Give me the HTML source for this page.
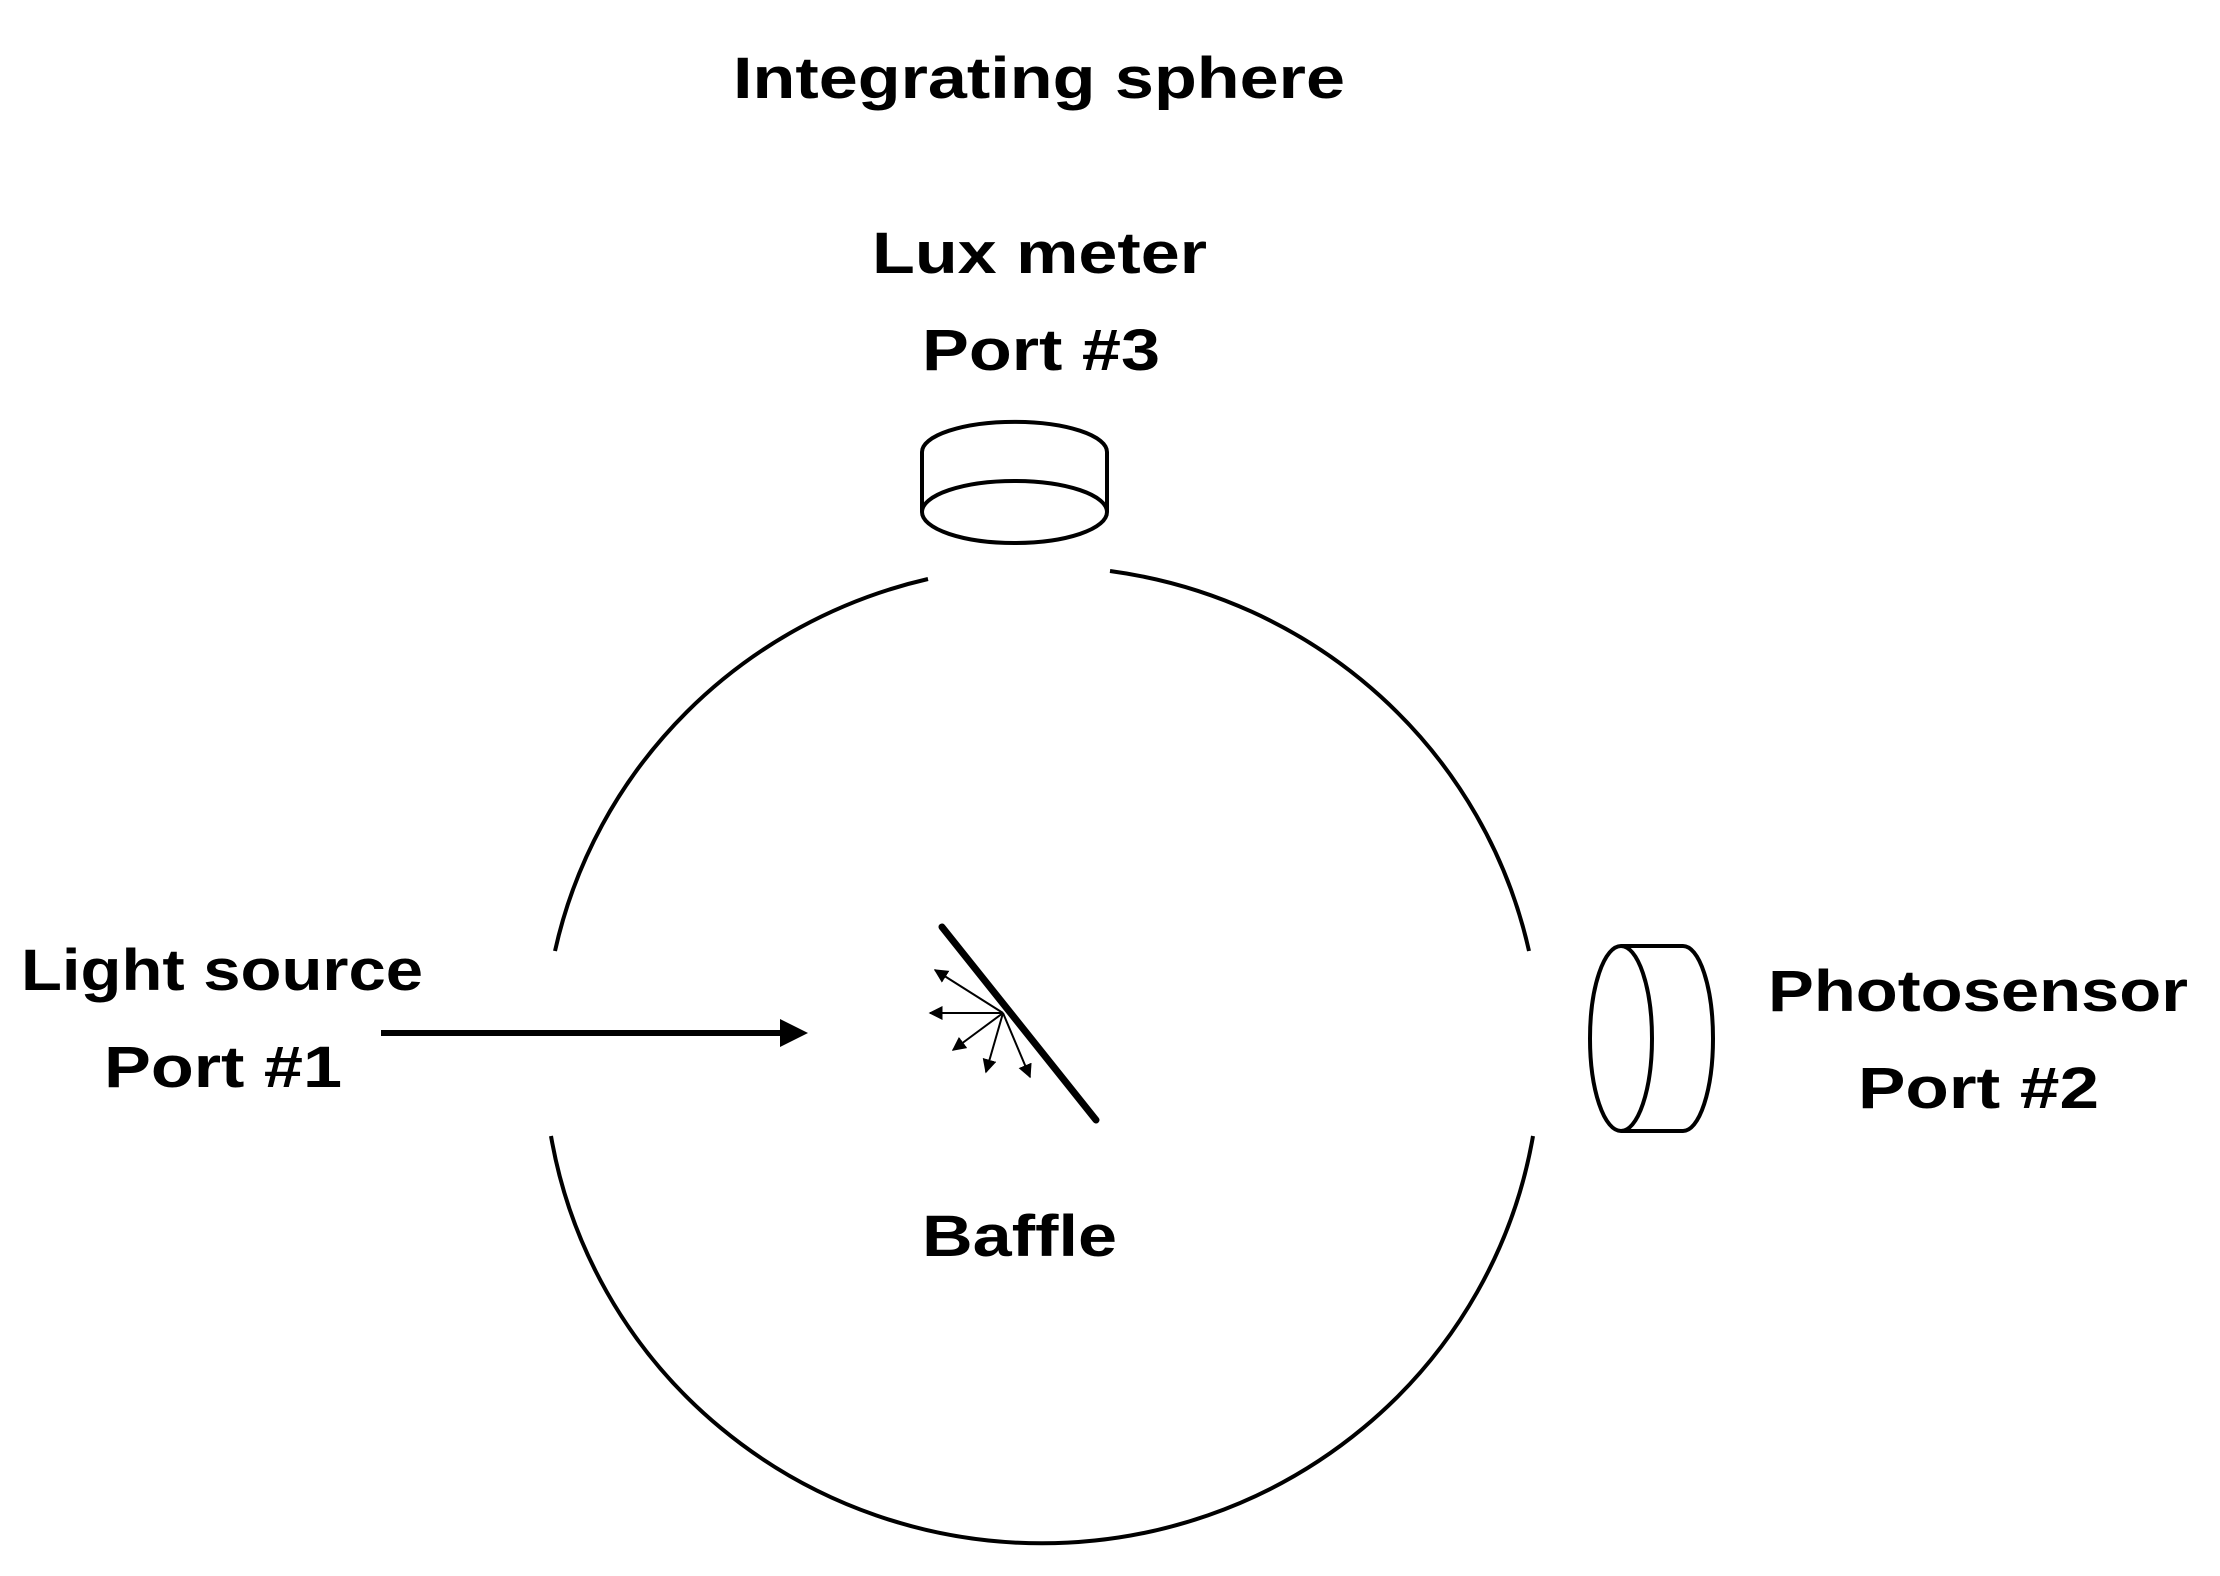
<!DOCTYPE html>
<html><head><meta charset="utf-8"><style>html,body{margin:0;padding:0;background:#fff}svg{display:block}</style></head>
<body>
<svg width="2220" height="1576" viewBox="0 0 2220 1576" xmlns="http://www.w3.org/2000/svg">
<defs>
<marker id="sm" viewBox="0 0 10 10" refX="9" refY="5" markerWidth="14" markerHeight="14" orient="auto" markerUnits="userSpaceOnUse"><path d="M0,0 L10,5 L0,10 z"/></marker>
</defs>
<g font-family="Liberation Sans, sans-serif" font-weight="bold" font-size="58" fill="#000">
<text x="733" y="98" textLength="612" lengthAdjust="spacingAndGlyphs">Integrating sphere</text>
<text x="872" y="273" textLength="335" lengthAdjust="spacingAndGlyphs">Lux meter</text>
<text x="922" y="370" textLength="238" lengthAdjust="spacingAndGlyphs">Port #3</text>
<text x="21" y="990" textLength="402" lengthAdjust="spacingAndGlyphs">Light source</text>
<text x="104" y="1087" textLength="238" lengthAdjust="spacingAndGlyphs">Port #1</text>
<text x="1768" y="1011" textLength="420" lengthAdjust="spacingAndGlyphs">Photosensor</text>
<text x="1858" y="1108" textLength="241" lengthAdjust="spacingAndGlyphs">Port #2</text>
<text x="922" y="1256" textLength="195" lengthAdjust="spacingAndGlyphs">Baffle</text>
</g>
<g fill="none" stroke="#000" stroke-width="4">
<path d="M928,579 A498,489 0 0 0 555,951"/>
<path d="M551,1136 A498,489 0 0 0 1533,1136"/>
<path d="M1529,951 A498,489 0 0 0 1110,571"/>
<path d="M922,452 A92,30 0 0 1 1107,452"/>
<line x1="922" y1="452" x2="922" y2="512"/>
<line x1="1107" y1="452" x2="1107" y2="512"/>
<ellipse cx="1014.5" cy="512" rx="92.5" ry="31"/>
<line x1="1621" y1="946" x2="1683" y2="946"/>
<line x1="1621" y1="1131" x2="1683" y2="1131"/>
<path d="M1683,946 A30,92.5 0 0 1 1683,1131"/>
<ellipse cx="1621" cy="1038.5" rx="31" ry="92.5"/>
</g>
<line x1="381" y1="1033" x2="790" y2="1033" stroke="#000" stroke-width="6"/>
<path d="M780,1019 L808,1033 L780,1047 z" fill="#000"/>
<line x1="942" y1="927" x2="1096" y2="1120" stroke="#000" stroke-width="7" stroke-linecap="round"/>
<g stroke="#000" stroke-width="2" marker-end="url(#sm)">
<line x1="1003" y1="1013" x2="935" y2="970"/>
<line x1="1003" y1="1013" x2="930" y2="1013"/>
<line x1="1003" y1="1013" x2="953" y2="1050"/>
<line x1="1003" y1="1013" x2="986" y2="1072"/>
<line x1="1003" y1="1013" x2="1030" y2="1077"/>
</g>
</svg>
</body></html>
